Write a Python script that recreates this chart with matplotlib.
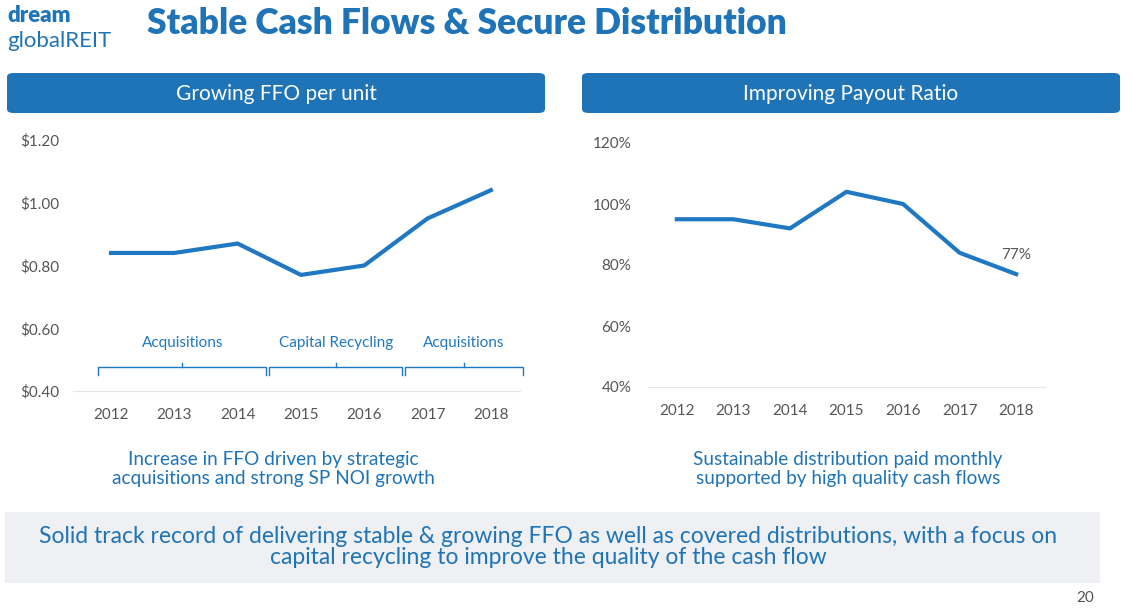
import matplotlib
matplotlib.use("Agg")
import matplotlib.pyplot as plt
from matplotlib.patches import FancyBboxPatch, Rectangle

years = [2012, 2013, 2014, 2015, 2016, 2017, 2018]
ffo = [0.84, 0.84, 0.87, 0.77, 0.80, 0.95, 1.04]
payout = [95, 95, 92, 104, 100, 84, 77]
ffo_ticks = [0.40, 0.60, 0.80, 1.00, 1.20]
payout_ticks = [40, 60, 80, 100, 120]
phases = [("Acquisitions", 2011.8, 2014.45), ("Capital Recycling", 2014.5, 2016.6), ("Acquisitions", 2016.65, 2018.5)]

BLUE = "#1f74b8"
LINE = "#1f78c1"
GREY = "#555555"
FONT = "Lato"
plt.rcParams['font.family'] = [FONT, 'DejaVu Sans']

W, H = 1133, 616
fig = plt.figure(figsize=(W/100, H/100), dpi=100)

def fx(px): return px / W
def fy(py): return 1 - py / H

# title and logo
fig.text(fx(147), fy(24), "Stable Cash Flows & Secure Distribution", fontsize=25.5, fontweight='heavy', color=BLUE, va='center')
fig.text(fx(7), fy(15), "dream", fontsize=16, fontweight='heavy', color=BLUE, va='center')
fig.text(fx(7), fy(41), "globalREIT", fontsize=16, color=BLUE, va='center')

# header boxes
for x0, x1, label in [(7, 545, "Growing FFO per unit"), (582, 1120, "Improving Payout Ratio")]:
    fig.patches.append(FancyBboxPatch((fx(x0), fy(113)), fx(x1 - x0), 40 / H,
                                      boxstyle="round,pad=0,rounding_size=0.006",
                                      transform=fig.transFigure, facecolor=BLUE, edgecolor='none'))
    fig.text(fx((x0 + x1) / 2), fy(94), label, fontsize=15, color='white', ha='center', va='center')

# bottom grey box
fig.patches.append(Rectangle((fx(5), fy(583)), fx(1095), 71 / H, transform=fig.transFigure,
                             facecolor="#eef0f3", edgecolor='none'))
fig.text(fx(548), fy(547), "Solid track record of delivering stable & growing FFO as well as covered distributions, with a focus on\ncapital recycling to improve the quality of the cash flow",
         fontsize=16.5, color=BLUE, ha='center', va='center', linespacing=1.05)
fig.text(fx(1085), fy(598), "20", fontsize=11, color=GREY, ha='center', va='center')

def style(ax):
    for s in ['top', 'right', 'left']:
        ax.spines[s].set_visible(False)
    ax.spines['bottom'].set_color('#e6e6e6')
    ax.tick_params(length=0, colors=GREY, labelsize=11)
    ax.tick_params(axis='x', pad=12)
    ax.set_xticks(years)
    ax.set_xticklabels([str(y) for y in years])

# left chart
ax1 = fig.add_axes([fx(73), fy(391), fx(447), 251 / H])
ax1.plot(years, ffo, color=LINE, lw=3)
ax1.set_xlim(2011.4, 2018.46)
ax1.set_ylim(0.40, 1.20)
ax1.set_yticks(ffo_ticks)
ax1.set_yticklabels([f"${v:.2f}" for v in ffo_ticks])
style(ax1)
ax1.tick_params(axis='y', pad=0)
for lab in ax1.get_yticklabels():
    lab.set_ha('left')
    lab.set_x(-0.118)
for name, a, b in phases:
    m = (a + b) / 2
    yb, yt, ym = 0.45, 0.475, 0.49
    ax1.plot([a, a, b, b], [yb, yt, yt, yb], color=LINE, lw=1, clip_on=False)
    ax1.plot([m, m], [yt, ym], color=LINE, lw=1, clip_on=False)
    ax1.text(m, 0.53, name, color=LINE, fontsize=11, ha='center', va='bottom')
fig.text(fx(273), fy(469), "Increase in FFO driven by strategic\nacquisitions and strong SP NOI growth",
         fontsize=13.7, color=BLUE, ha='center', va='center', linespacing=1.15)

# right chart
ax2 = fig.add_axes([fx(648), fy(387), fx(397), 244 / H])
ax2.plot(years, payout, color=LINE, lw=3)
ax2.set_xlim(2011.49, 2018.51)
ax2.set_ylim(40, 120)
ax2.set_yticks(payout_ticks)
ax2.set_yticklabels([f"{v}%" for v in payout_ticks])
style(ax2)
ax2.tick_params(axis='y', pad=12)
ax2.annotate(f"{payout[-1]}%", (years[-1], payout[-1]), xytext=(0, 9), textcoords='offset points',
             ha='center', va='bottom', fontsize=11, color=GREY)
fig.text(fx(848), fy(469), "Sustainable distribution paid monthly\nsupported by high quality cash flows",
         fontsize=13.7, color=BLUE, ha='center', va='center', linespacing=1.15)

fig.savefig("out.png", dpi=100)
